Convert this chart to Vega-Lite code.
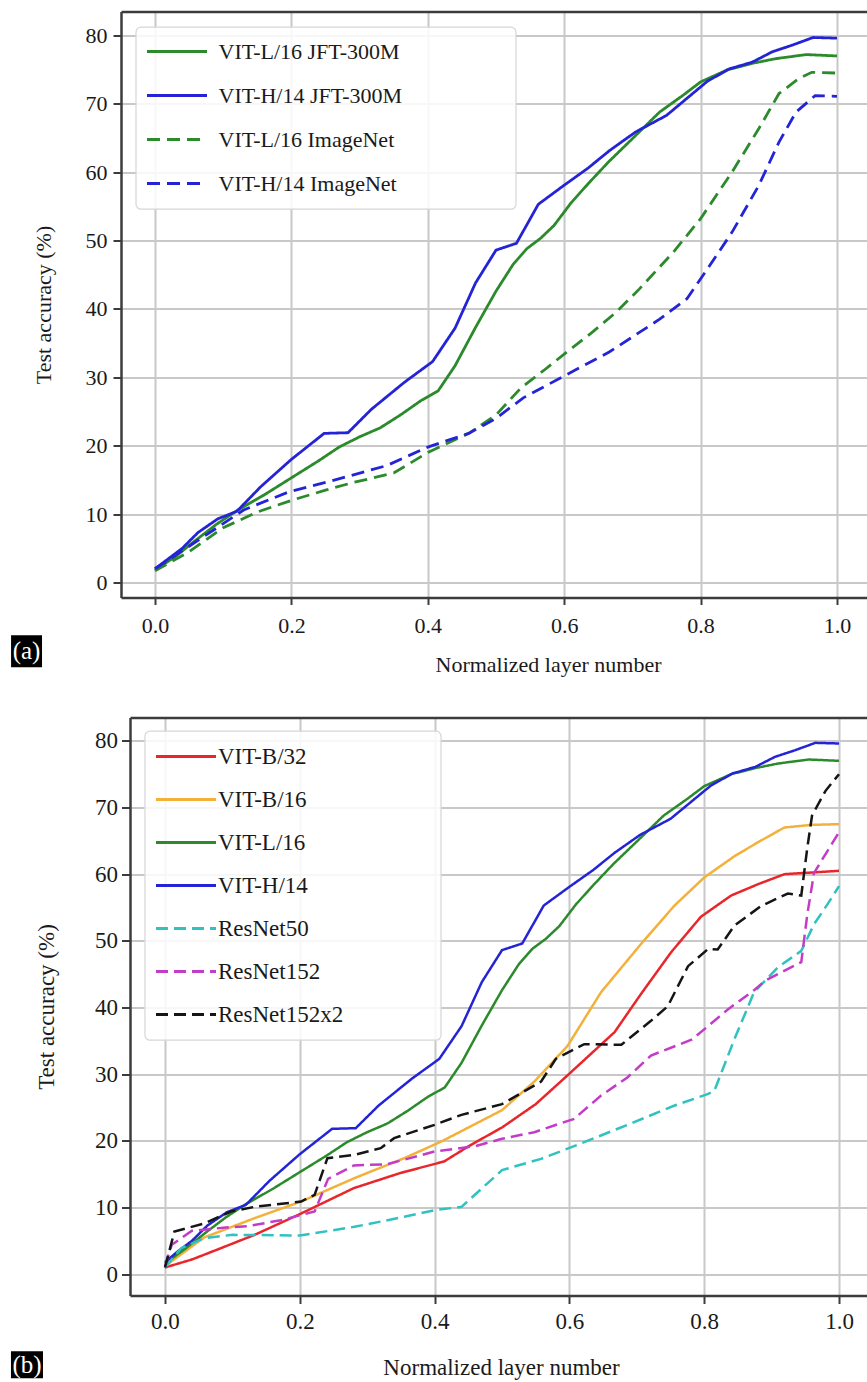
{
  "$schema": "https://vega.github.io/schema/vega-lite/v6.json",
  "padding": {"left": 10, "top": 11.5, "right": 0, "bottom": 0},
  "spacing": 42,
  "resolve": {
    "scale": {"x": "independent", "y": "independent", "color": "independent", "strokeDash": "independent"},
    "legend": {"color": "independent", "strokeDash": "independent"},
    "axis": {"x": "independent", "y": "independent"}
  },
  "config": {
    "view": {"stroke": null},
    "font": "Liberation Serif",
    "axis": {"labelFont": "Liberation Serif", "titleFont": "Liberation Serif", "titleFontWeight": "normal", "labelColor": "#1a1a1a", "titleColor": "#1a1a1a", "gridColor": "#c8c8c8", "gridWidth": 2, "domainColor": "#3c3c3c", "domainWidth": 2.5, "tickColor": "#3c3c3c", "tickWidth": 2, "labelFlush": false},
    "legend": {"labelFont": "Liberation Serif", "labelColor": "#1a1a1a", "symbolType": "stroke", "symbolSize": 3600, "symbolStrokeWidth": 3, "fillColor": null, "strokeColor": null, "rowPadding": 0, "labelLimit": 600}
  },
  "datasets": {
    "a": [
      {"model":"VIT-L/16 JFT-300M","layer":0,"accuracy":1.8},{"model":"VIT-L/16 JFT-300M","layer":0.03,"accuracy":3.8},{"model":"VIT-L/16 JFT-300M","layer":0.06,"accuracy":6.2},{"model":"VIT-L/16 JFT-300M","layer":0.09,"accuracy":8.5},{"model":"VIT-L/16 JFT-300M","layer":0.12,"accuracy":10.5},{"model":"VIT-L/16 JFT-300M","layer":0.16,"accuracy":12.8},{"model":"VIT-L/16 JFT-300M","layer":0.2,"accuracy":15.3},{"model":"VIT-L/16 JFT-300M","layer":0.24,"accuracy":17.8},{"model":"VIT-L/16 JFT-300M","layer":0.27,"accuracy":19.8},{"model":"VIT-L/16 JFT-300M","layer":0.3,"accuracy":21.3},{"model":"VIT-L/16 JFT-300M","layer":0.33,"accuracy":22.6},{"model":"VIT-L/16 JFT-300M","layer":0.36,"accuracy":24.5},{"model":"VIT-L/16 JFT-300M","layer":0.39,"accuracy":26.6},{"model":"VIT-L/16 JFT-300M","layer":0.415,"accuracy":28.0},{"model":"VIT-L/16 JFT-300M","layer":0.44,"accuracy":31.7},{"model":"VIT-L/16 JFT-300M","layer":0.47,"accuracy":37.3},{"model":"VIT-L/16 JFT-300M","layer":0.5,"accuracy":42.6},{"model":"VIT-L/16 JFT-300M","layer":0.525,"accuracy":46.5},{"model":"VIT-L/16 JFT-300M","layer":0.545,"accuracy":48.8},{"model":"VIT-L/16 JFT-300M","layer":0.565,"accuracy":50.3},{"model":"VIT-L/16 JFT-300M","layer":0.585,"accuracy":52.2},{"model":"VIT-L/16 JFT-300M","layer":0.61,"accuracy":55.5},{"model":"VIT-L/16 JFT-300M","layer":0.635,"accuracy":58.3},{"model":"VIT-L/16 JFT-300M","layer":0.665,"accuracy":61.5},{"model":"VIT-L/16 JFT-300M","layer":0.7,"accuracy":64.9},{"model":"VIT-L/16 JFT-300M","layer":0.74,"accuracy":68.8},{"model":"VIT-L/16 JFT-300M","layer":0.775,"accuracy":71.3},{"model":"VIT-L/16 JFT-300M","layer":0.8,"accuracy":73.2},{"model":"VIT-L/16 JFT-300M","layer":0.84,"accuracy":75.0},{"model":"VIT-L/16 JFT-300M","layer":0.875,"accuracy":75.9},{"model":"VIT-L/16 JFT-300M","layer":0.91,"accuracy":76.6},{"model":"VIT-L/16 JFT-300M","layer":0.955,"accuracy":77.2},{"model":"VIT-L/16 JFT-300M","layer":1.0,"accuracy":77.0},
      {"model":"VIT-H/14 JFT-300M","layer":0,"accuracy":2.0},{"model":"VIT-H/14 JFT-300M","layer":0.02,"accuracy":3.5},{"model":"VIT-H/14 JFT-300M","layer":0.04,"accuracy":5.0},{"model":"VIT-H/14 JFT-300M","layer":0.063,"accuracy":7.3},{"model":"VIT-H/14 JFT-300M","layer":0.092,"accuracy":9.3},{"model":"VIT-H/14 JFT-300M","layer":0.12,"accuracy":10.4},{"model":"VIT-H/14 JFT-300M","layer":0.155,"accuracy":14.0},{"model":"VIT-H/14 JFT-300M","layer":0.2,"accuracy":18.0},{"model":"VIT-H/14 JFT-300M","layer":0.248,"accuracy":21.8},{"model":"VIT-H/14 JFT-300M","layer":0.283,"accuracy":21.9},{"model":"VIT-H/14 JFT-300M","layer":0.317,"accuracy":25.3},{"model":"VIT-H/14 JFT-300M","layer":0.366,"accuracy":29.3},{"model":"VIT-H/14 JFT-300M","layer":0.407,"accuracy":32.3},{"model":"VIT-H/14 JFT-300M","layer":0.44,"accuracy":37.2},{"model":"VIT-H/14 JFT-300M","layer":0.47,"accuracy":43.8},{"model":"VIT-H/14 JFT-300M","layer":0.5,"accuracy":48.6},{"model":"VIT-H/14 JFT-300M","layer":0.53,"accuracy":49.6},{"model":"VIT-H/14 JFT-300M","layer":0.562,"accuracy":55.3},{"model":"VIT-H/14 JFT-300M","layer":0.6,"accuracy":58.1},{"model":"VIT-H/14 JFT-300M","layer":0.635,"accuracy":60.6},{"model":"VIT-H/14 JFT-300M","layer":0.667,"accuracy":63.2},{"model":"VIT-H/14 JFT-300M","layer":0.705,"accuracy":65.9},{"model":"VIT-H/14 JFT-300M","layer":0.75,"accuracy":68.3},{"model":"VIT-H/14 JFT-300M","layer":0.78,"accuracy":70.8},{"model":"VIT-H/14 JFT-300M","layer":0.81,"accuracy":73.3},{"model":"VIT-H/14 JFT-300M","layer":0.842,"accuracy":75.1},{"model":"VIT-H/14 JFT-300M","layer":0.876,"accuracy":76.1},{"model":"VIT-H/14 JFT-300M","layer":0.905,"accuracy":77.6},{"model":"VIT-H/14 JFT-300M","layer":0.935,"accuracy":78.6},{"model":"VIT-H/14 JFT-300M","layer":0.965,"accuracy":79.7},{"model":"VIT-H/14 JFT-300M","layer":1.0,"accuracy":79.6},
      {"model":"VIT-L/16 ImageNet","layer":0,"accuracy":1.7},{"model":"VIT-L/16 ImageNet","layer":0.05,"accuracy":4.5},{"model":"VIT-L/16 ImageNet","layer":0.1,"accuracy":8.0},{"model":"VIT-L/16 ImageNet","layer":0.15,"accuracy":10.3},{"model":"VIT-L/16 ImageNet","layer":0.2,"accuracy":12.0},{"model":"VIT-L/16 ImageNet","layer":0.25,"accuracy":13.5},{"model":"VIT-L/16 ImageNet","layer":0.29,"accuracy":14.6},{"model":"VIT-L/16 ImageNet","layer":0.35,"accuracy":16.0},{"model":"VIT-L/16 ImageNet","layer":0.4,"accuracy":19.0},{"model":"VIT-L/16 ImageNet","layer":0.46,"accuracy":21.8},{"model":"VIT-L/16 ImageNet","layer":0.5,"accuracy":24.5},{"model":"VIT-L/16 ImageNet","layer":0.537,"accuracy":28.5},{"model":"VIT-L/16 ImageNet","layer":0.57,"accuracy":31.0},{"model":"VIT-L/16 ImageNet","layer":0.6,"accuracy":33.4},{"model":"VIT-L/16 ImageNet","layer":0.64,"accuracy":36.5},{"model":"VIT-L/16 ImageNet","layer":0.676,"accuracy":39.5},{"model":"VIT-L/16 ImageNet","layer":0.71,"accuracy":42.9},{"model":"VIT-L/16 ImageNet","layer":0.76,"accuracy":48.3},{"model":"VIT-L/16 ImageNet","layer":0.8,"accuracy":53.2},{"model":"VIT-L/16 ImageNet","layer":0.846,"accuracy":60.0},{"model":"VIT-L/16 ImageNet","layer":0.885,"accuracy":66.3},{"model":"VIT-L/16 ImageNet","layer":0.915,"accuracy":71.5},{"model":"VIT-L/16 ImageNet","layer":0.944,"accuracy":73.7},{"model":"VIT-L/16 ImageNet","layer":0.963,"accuracy":74.6},{"model":"VIT-L/16 ImageNet","layer":1.0,"accuracy":74.5},
      {"model":"VIT-H/14 ImageNet","layer":0,"accuracy":2.0},{"model":"VIT-H/14 ImageNet","layer":0.05,"accuracy":5.3},{"model":"VIT-H/14 ImageNet","layer":0.1,"accuracy":8.6},{"model":"VIT-H/14 ImageNet","layer":0.13,"accuracy":10.6},{"model":"VIT-H/14 ImageNet","layer":0.195,"accuracy":13.2},{"model":"VIT-H/14 ImageNet","layer":0.268,"accuracy":15.1},{"model":"VIT-H/14 ImageNet","layer":0.34,"accuracy":17.1},{"model":"VIT-H/14 ImageNet","layer":0.4,"accuracy":19.8},{"model":"VIT-H/14 ImageNet","layer":0.46,"accuracy":21.8},{"model":"VIT-H/14 ImageNet","layer":0.5,"accuracy":24.0},{"model":"VIT-H/14 ImageNet","layer":0.54,"accuracy":27.0},{"model":"VIT-H/14 ImageNet","layer":0.6,"accuracy":30.2},{"model":"VIT-H/14 ImageNet","layer":0.666,"accuracy":33.7},{"model":"VIT-H/14 ImageNet","layer":0.74,"accuracy":38.5},{"model":"VIT-H/14 ImageNet","layer":0.78,"accuracy":41.5},{"model":"VIT-H/14 ImageNet","layer":0.807,"accuracy":45.4},{"model":"VIT-H/14 ImageNet","layer":0.846,"accuracy":51.2},{"model":"VIT-H/14 ImageNet","layer":0.885,"accuracy":58.0},{"model":"VIT-H/14 ImageNet","layer":0.915,"accuracy":64.4},{"model":"VIT-H/14 ImageNet","layer":0.94,"accuracy":68.8},{"model":"VIT-H/14 ImageNet","layer":0.968,"accuracy":71.2},{"model":"VIT-H/14 ImageNet","layer":1.0,"accuracy":71.1}
    ],
    "b": [
      {"model":"VIT-B/32","layer":0,"accuracy":1.0},{"model":"VIT-B/32","layer":0.04,"accuracy":2.2},{"model":"VIT-B/32","layer":0.083,"accuracy":3.9},{"model":"VIT-B/32","layer":0.133,"accuracy":5.9},{"model":"VIT-B/32","layer":0.2,"accuracy":9.0},{"model":"VIT-B/32","layer":0.28,"accuracy":12.9},{"model":"VIT-B/32","layer":0.35,"accuracy":15.2},{"model":"VIT-B/32","layer":0.414,"accuracy":16.9},{"model":"VIT-B/32","layer":0.454,"accuracy":19.4},{"model":"VIT-B/32","layer":0.5,"accuracy":22.0},{"model":"VIT-B/32","layer":0.55,"accuracy":25.5},{"model":"VIT-B/32","layer":0.597,"accuracy":29.8},{"model":"VIT-B/32","layer":0.667,"accuracy":36.3},{"model":"VIT-B/32","layer":0.706,"accuracy":42.0},{"model":"VIT-B/32","layer":0.751,"accuracy":48.3},{"model":"VIT-B/32","layer":0.795,"accuracy":53.6},{"model":"VIT-B/32","layer":0.84,"accuracy":56.8},{"model":"VIT-B/32","layer":0.88,"accuracy":58.5},{"model":"VIT-B/32","layer":0.919,"accuracy":60.0},{"model":"VIT-B/32","layer":1.0,"accuracy":60.5},
      {"model":"VIT-B/16","layer":0,"accuracy":1.2},{"model":"VIT-B/16","layer":0.058,"accuracy":5.5},{"model":"VIT-B/16","layer":0.133,"accuracy":8.4},{"model":"VIT-B/16","layer":0.202,"accuracy":10.9},{"model":"VIT-B/16","layer":0.281,"accuracy":14.4},{"model":"VIT-B/16","layer":0.355,"accuracy":17.4},{"model":"VIT-B/16","layer":0.41,"accuracy":19.9},{"model":"VIT-B/16","layer":0.5,"accuracy":24.6},{"model":"VIT-B/16","layer":0.548,"accuracy":28.9},{"model":"VIT-B/16","layer":0.597,"accuracy":34.2},{"model":"VIT-B/16","layer":0.647,"accuracy":42.3},{"model":"VIT-B/16","layer":0.706,"accuracy":49.5},{"model":"VIT-B/16","layer":0.756,"accuracy":55.3},{"model":"VIT-B/16","layer":0.8,"accuracy":59.5},{"model":"VIT-B/16","layer":0.845,"accuracy":62.7},{"model":"VIT-B/16","layer":0.88,"accuracy":64.8},{"model":"VIT-B/16","layer":0.919,"accuracy":67.0},{"model":"VIT-B/16","layer":0.96,"accuracy":67.4},{"model":"VIT-B/16","layer":1.0,"accuracy":67.5},
      {"model":"VIT-L/16","layer":0,"accuracy":1.6},{"model":"VIT-L/16","layer":0.03,"accuracy":3.8},{"model":"VIT-L/16","layer":0.06,"accuracy":6.2},{"model":"VIT-L/16","layer":0.09,"accuracy":8.5},{"model":"VIT-L/16","layer":0.12,"accuracy":10.5},{"model":"VIT-L/16","layer":0.16,"accuracy":12.8},{"model":"VIT-L/16","layer":0.2,"accuracy":15.3},{"model":"VIT-L/16","layer":0.24,"accuracy":17.8},{"model":"VIT-L/16","layer":0.27,"accuracy":19.8},{"model":"VIT-L/16","layer":0.3,"accuracy":21.3},{"model":"VIT-L/16","layer":0.33,"accuracy":22.6},{"model":"VIT-L/16","layer":0.36,"accuracy":24.5},{"model":"VIT-L/16","layer":0.39,"accuracy":26.6},{"model":"VIT-L/16","layer":0.415,"accuracy":28.0},{"model":"VIT-L/16","layer":0.44,"accuracy":31.7},{"model":"VIT-L/16","layer":0.47,"accuracy":37.3},{"model":"VIT-L/16","layer":0.5,"accuracy":42.6},{"model":"VIT-L/16","layer":0.525,"accuracy":46.5},{"model":"VIT-L/16","layer":0.545,"accuracy":48.8},{"model":"VIT-L/16","layer":0.565,"accuracy":50.3},{"model":"VIT-L/16","layer":0.585,"accuracy":52.2},{"model":"VIT-L/16","layer":0.61,"accuracy":55.5},{"model":"VIT-L/16","layer":0.635,"accuracy":58.3},{"model":"VIT-L/16","layer":0.665,"accuracy":61.5},{"model":"VIT-L/16","layer":0.7,"accuracy":64.9},{"model":"VIT-L/16","layer":0.74,"accuracy":68.8},{"model":"VIT-L/16","layer":0.775,"accuracy":71.3},{"model":"VIT-L/16","layer":0.8,"accuracy":73.2},{"model":"VIT-L/16","layer":0.84,"accuracy":75.0},{"model":"VIT-L/16","layer":0.875,"accuracy":75.9},{"model":"VIT-L/16","layer":0.91,"accuracy":76.6},{"model":"VIT-L/16","layer":0.955,"accuracy":77.2},{"model":"VIT-L/16","layer":1.0,"accuracy":77.0},
      {"model":"VIT-H/14","layer":0,"accuracy":1.8},{"model":"VIT-H/14","layer":0.02,"accuracy":3.5},{"model":"VIT-H/14","layer":0.04,"accuracy":5.0},{"model":"VIT-H/14","layer":0.063,"accuracy":7.3},{"model":"VIT-H/14","layer":0.092,"accuracy":9.3},{"model":"VIT-H/14","layer":0.12,"accuracy":10.4},{"model":"VIT-H/14","layer":0.155,"accuracy":14.0},{"model":"VIT-H/14","layer":0.2,"accuracy":18.0},{"model":"VIT-H/14","layer":0.248,"accuracy":21.8},{"model":"VIT-H/14","layer":0.283,"accuracy":21.9},{"model":"VIT-H/14","layer":0.317,"accuracy":25.3},{"model":"VIT-H/14","layer":0.366,"accuracy":29.3},{"model":"VIT-H/14","layer":0.407,"accuracy":32.3},{"model":"VIT-H/14","layer":0.44,"accuracy":37.2},{"model":"VIT-H/14","layer":0.47,"accuracy":43.8},{"model":"VIT-H/14","layer":0.5,"accuracy":48.6},{"model":"VIT-H/14","layer":0.53,"accuracy":49.6},{"model":"VIT-H/14","layer":0.562,"accuracy":55.3},{"model":"VIT-H/14","layer":0.6,"accuracy":58.1},{"model":"VIT-H/14","layer":0.635,"accuracy":60.6},{"model":"VIT-H/14","layer":0.667,"accuracy":63.2},{"model":"VIT-H/14","layer":0.705,"accuracy":65.9},{"model":"VIT-H/14","layer":0.75,"accuracy":68.3},{"model":"VIT-H/14","layer":0.78,"accuracy":70.8},{"model":"VIT-H/14","layer":0.81,"accuracy":73.3},{"model":"VIT-H/14","layer":0.842,"accuracy":75.1},{"model":"VIT-H/14","layer":0.876,"accuracy":76.1},{"model":"VIT-H/14","layer":0.905,"accuracy":77.6},{"model":"VIT-H/14","layer":0.935,"accuracy":78.6},{"model":"VIT-H/14","layer":0.965,"accuracy":79.7},{"model":"VIT-H/14","layer":1.0,"accuracy":79.6},
      {"model":"ResNet50","layer":0,"accuracy":1.0},{"model":"ResNet50","layer":0.024,"accuracy":3.9},{"model":"ResNet50","layer":0.058,"accuracy":5.4},{"model":"ResNet50","layer":0.1,"accuracy":5.9},{"model":"ResNet50","layer":0.2,"accuracy":5.8},{"model":"ResNet50","layer":0.281,"accuracy":7.1},{"model":"ResNet50","layer":0.355,"accuracy":8.6},{"model":"ResNet50","layer":0.4,"accuracy":9.6},{"model":"ResNet50","layer":0.44,"accuracy":10.1},{"model":"ResNet50","layer":0.5,"accuracy":15.6},{"model":"ResNet50","layer":0.558,"accuracy":17.3},{"model":"ResNet50","layer":0.622,"accuracy":19.8},{"model":"ResNet50","layer":0.696,"accuracy":22.8},{"model":"ResNet50","layer":0.756,"accuracy":25.3},{"model":"ResNet50","layer":0.805,"accuracy":27.0},{"model":"ResNet50","layer":0.815,"accuracy":27.5},{"model":"ResNet50","layer":0.845,"accuracy":35.3},{"model":"ResNet50","layer":0.874,"accuracy":42.3},{"model":"ResNet50","layer":0.909,"accuracy":46.0},{"model":"ResNet50","layer":0.944,"accuracy":48.5},{"model":"ResNet50","layer":0.963,"accuracy":52.5},{"model":"ResNet50","layer":0.983,"accuracy":55.5},{"model":"ResNet50","layer":1.0,"accuracy":58.2},
      {"model":"ResNet152","layer":0,"accuracy":1.2},{"model":"ResNet152","layer":0.01,"accuracy":4.4},{"model":"ResNet152","layer":0.04,"accuracy":6.5},{"model":"ResNet152","layer":0.09,"accuracy":7.0},{"model":"ResNet152","layer":0.123,"accuracy":7.2},{"model":"ResNet152","layer":0.172,"accuracy":8.1},{"model":"ResNet152","layer":0.222,"accuracy":9.4},{"model":"ResNet152","layer":0.242,"accuracy":14.3},{"model":"ResNet152","layer":0.28,"accuracy":16.3},{"model":"ResNet152","layer":0.33,"accuracy":16.5},{"model":"ResNet152","layer":0.4,"accuracy":18.4},{"model":"ResNet152","layer":0.46,"accuracy":19.2},{"model":"ResNet152","layer":0.5,"accuracy":20.3},{"model":"ResNet152","layer":0.548,"accuracy":21.3},{"model":"ResNet152","layer":0.607,"accuracy":23.3},{"model":"ResNet152","layer":0.647,"accuracy":26.8},{"model":"ResNet152","layer":0.686,"accuracy":29.5},{"model":"ResNet152","layer":0.721,"accuracy":32.8},{"model":"ResNet152","layer":0.782,"accuracy":35.2},{"model":"ResNet152","layer":0.835,"accuracy":39.7},{"model":"ResNet152","layer":0.874,"accuracy":42.6},{"model":"ResNet152","layer":0.89,"accuracy":44.0},{"model":"ResNet152","layer":0.944,"accuracy":46.8},{"model":"ResNet152","layer":0.953,"accuracy":54.0},{"model":"ResNet152","layer":0.963,"accuracy":60.2},{"model":"ResNet152","layer":0.983,"accuracy":63.5},{"model":"ResNet152","layer":1.0,"accuracy":66.3},
      {"model":"ResNet152x2","layer":0,"accuracy":1.0},{"model":"ResNet152x2","layer":0.014,"accuracy":6.4},{"model":"ResNet152x2","layer":0.058,"accuracy":7.6},{"model":"ResNet152x2","layer":0.098,"accuracy":9.4},{"model":"ResNet152x2","layer":0.133,"accuracy":10.1},{"model":"ResNet152x2","layer":0.202,"accuracy":10.9},{"model":"ResNet152x2","layer":0.222,"accuracy":11.9},{"model":"ResNet152x2","layer":0.241,"accuracy":17.4},{"model":"ResNet152x2","layer":0.281,"accuracy":17.9},{"model":"ResNet152x2","layer":0.32,"accuracy":18.9},{"model":"ResNet152x2","layer":0.34,"accuracy":20.4},{"model":"ResNet152x2","layer":0.4,"accuracy":22.4},{"model":"ResNet152x2","layer":0.44,"accuracy":23.9},{"model":"ResNet152x2","layer":0.5,"accuracy":25.5},{"model":"ResNet152x2","layer":0.558,"accuracy":28.9},{"model":"ResNet152x2","layer":0.58,"accuracy":32.3},{"model":"ResNet152x2","layer":0.622,"accuracy":34.5},{"model":"ResNet152x2","layer":0.677,"accuracy":34.4},{"model":"ResNet152x2","layer":0.721,"accuracy":38.0},{"model":"ResNet152x2","layer":0.746,"accuracy":40.2},{"model":"ResNet152x2","layer":0.776,"accuracy":46.2},{"model":"ResNet152x2","layer":0.806,"accuracy":48.8},{"model":"ResNet152x2","layer":0.82,"accuracy":48.7},{"model":"ResNet152x2","layer":0.845,"accuracy":52.3},{"model":"ResNet152x2","layer":0.884,"accuracy":55.2},{"model":"ResNet152x2","layer":0.924,"accuracy":57.1},{"model":"ResNet152x2","layer":0.944,"accuracy":56.8},{"model":"ResNet152x2","layer":0.953,"accuracy":64.0},{"model":"ResNet152x2","layer":0.96,"accuracy":68.8},{"model":"ResNet152x2","layer":0.98,"accuracy":72.5},{"model":"ResNet152x2","layer":1.0,"accuracy":75.0}
    ]
  },
  "vconcat": [
    {
      "width": 747,
      "height": 586,
      "layer": [
        {
          "data": {"values": [{"box": "legend"}]},
          "mark": {"type": "rect", "fill": "white", "fillOpacity": 0.85, "stroke": "#d6d6d6", "strokeWidth": 1.2, "cornerRadius": 5},
          "encoding": {
            "x": {"datum": -0.0279, "type": "quantitative", "axis": null},
            "x2": {"datum": 0.5293},
            "y": {"datum": 81.21, "type": "quantitative"},
            "y2": {"datum": 54.59}
          }
        },
        {
          "data": {"name": "a"},
          "mark": {"type": "line", "strokeWidth": 2.8},
          "encoding": {
            "x": {"field": "layer", "type": "quantitative", "scale": {"domain": [-0.0499, 1.0455], "nice": false, "zero": false},
              "axis": {"orient": "bottom", "values": [0, 0.2, 0.4, 0.6, 0.8, 1.0], "format": ".1f", "labelFontSize": 22, "tickSize": 7, "labelBaseline": "middle", "labelPadding": 20.5, "title": "Normalized layer number", "titleFontSize": 22, "titleX": 427, "titleY": 66.7, "titleBaseline": "middle", "titleAlign": "center", "grid": true}},
            "y": {"field": "accuracy", "type": "quantitative", "scale": {"domain": [-2.2, 83.5], "nice": false, "zero": false},
              "axis": {"orient": "left", "values": [0, 10, 20, 30, 40, 50, 60, 70, 80], "labelFontSize": 22, "tickSize": 8, "labelPadding": 6, "title": "Test accuracy (%)", "titleFontSize": 22, "titleX": -78, "titleY": 293, "titleAngle": -90, "titleBaseline": "middle", "titleAlign": "center", "grid": true}},
            "color": {"field": "model", "type": "nominal",
              "scale": {"domain": ["VIT-L/16 JFT-300M", "VIT-H/14 JFT-300M", "VIT-L/16 ImageNet", "VIT-H/14 ImageNet"], "range": ["#2b8a2b", "#2424d6", "#2b8a2b", "#2424d6"]},
              "legend": {"title": null, "orient": "top-left", "offset": 15, "clipHeight": 44, "padding": 3, "symbolOffset": 6.5, "labelOffset": 10, "labelFontSize": 22}},
            "strokeDash": {"field": "model", "type": "nominal",
              "scale": {"domain": ["VIT-L/16 JFT-300M", "VIT-H/14 JFT-300M", "VIT-L/16 ImageNet", "VIT-H/14 ImageNet"], "range": [[1, 0], [1, 0], [13, 7], [13, 7]]},
              "legend": {"title": null, "orient": "top-left", "offset": 15, "clipHeight": 44, "padding": 3, "symbolOffset": 6.5, "labelOffset": 10, "labelFontSize": 22}}
          }
        },
        {
          "data": {"values": [{"panel": "(a)"}]},
          "mark": {"type": "rect", "color": "black"},
          "encoding": {
            "x": {"datum": -0.2111, "type": "quantitative", "axis": {"orient": "top", "labels": false, "ticks": false, "grid": false, "title": null, "domain": true}},
            "x2": {"datum": -0.1657},
            "y": {"datum": -7.71, "type": "quantitative"},
            "y2": {"datum": -12.4}
          }
        },
        {
          "data": {"values": [{"panel": "(a)"}]},
          "mark": {"type": "text", "color": "white", "font": "Liberation Serif", "fontSize": 25, "baseline": "middle", "align": "center"},
          "encoding": {
            "x": {"datum": -0.1884, "type": "quantitative", "axis": null},
            "y": {"datum": -10.05, "type": "quantitative"},
            "text": {"field": "panel"}
          }
        }
      ]
    },
    {
      "width": 747,
      "height": 578,
      "layer": [
        {
          "data": {"values": [{"box": "legend"}]},
          "mark": {"type": "rect", "fill": "white", "fillOpacity": 0.85, "stroke": "#d6d6d6", "strokeWidth": 1.2, "cornerRadius": 5},
          "encoding": {
            "x": {"datum": -0.0297, "type": "quantitative", "axis": null},
            "x2": {"datum": 0.4095},
            "y": {"datum": 81.45, "type": "quantitative"},
            "y2": {"datum": 35.1}
          }
        },
        {
          "data": {"name": "b"},
          "mark": {"type": "line", "strokeWidth": 2.5},
          "encoding": {
            "x": {"field": "layer", "type": "quantitative", "scale": {"domain": [-0.0519, 1.043], "range": [9, 747], "nice": false, "zero": false},
              "axis": {"orient": "bottom", "values": [0, 0.2, 0.4, 0.6, 0.8, 1.0], "format": ".1f", "labelFontSize": 23, "tickSize": 8, "labelBaseline": "middle", "labelPadding": 17.5, "title": "Normalized layer number", "titleFontSize": 23, "titleX": 380, "titleY": 71.7, "titleBaseline": "middle", "titleAlign": "center", "grid": true}},
            "y": {"field": "accuracy", "type": "quantitative", "scale": {"domain": [-3.2, 83.5], "nice": false, "zero": false},
              "axis": {"orient": "left", "offset": -9, "values": [0, 10, 20, 30, 40, 50, 60, 70, 80], "labelFontSize": 23, "tickSize": 8.5, "labelPadding": 4, "title": "Test accuracy (%)", "titleFontSize": 23, "titleX": -84, "titleY": 289, "titleAngle": -90, "titleBaseline": "middle", "titleAlign": "center", "grid": true}},
            "color": {"field": "model", "type": "nominal",
              "scale": {"domain": ["VIT-B/32", "VIT-B/16", "VIT-L/16", "VIT-H/14", "ResNet50", "ResNet152", "ResNet152x2"], "range": ["#e8262b", "#f4b13a", "#2b8a2b", "#2424d6", "#30c2c0", "#c23cc8", "#151515"]},
              "legend": {"title": null, "orient": "none", "legendX": 24, "legendY": 14, "clipHeight": 43, "padding": 3.5, "symbolOffset": 6, "labelOffset": 0.5, "labelFontSize": 23}},
            "strokeDash": {"field": "model", "type": "nominal",
              "scale": {"domain": ["VIT-B/32", "VIT-B/16", "VIT-L/16", "VIT-H/14", "ResNet50", "ResNet152", "ResNet152x2"], "range": [[1, 0], [1, 0], [1, 0], [1, 0], [12, 6], [12, 6], [12, 6]]},
              "legend": {"title": null, "orient": "none", "legendX": 24, "legendY": 14, "clipHeight": 43, "padding": 3.5, "symbolOffset": 6, "labelOffset": 0.5, "labelFontSize": 23}}
          }
        },
        {
          "data": {"values": [{"panel": "(b)"}]},
          "mark": {"type": "rect", "color": "black"},
          "encoding": {
            "x": {"datum": -0.2285, "type": "quantitative", "axis": {"orient": "top", "labels": false, "ticks": false, "grid": false, "title": null, "domain": true}},
            "x2": {"datum": -0.181},
            "y": {"datum": -11.55, "type": "quantitative"},
            "y2": {"datum": -15.6}
          }
        },
        {
          "data": {"values": [{"panel": "(b)"}]},
          "mark": {"type": "text", "color": "white", "font": "Liberation Serif", "fontSize": 25, "baseline": "middle", "align": "center"},
          "encoding": {
            "x": {"datum": -0.2047, "type": "quantitative", "axis": null},
            "y": {"datum": -13.65, "type": "quantitative"},
            "text": {"field": "panel"}
          }
        }
      ]
    }
  ]
}
